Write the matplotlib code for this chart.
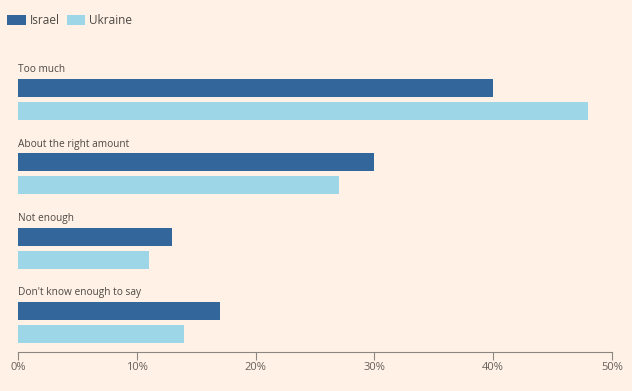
import numpy as np
import matplotlib.pyplot as plt

categories = ['Too much', 'About the right amount', 'Not enough', "Don't know enough to say"]
israel = [40, 30, 13, 17]
ukraine = [48, 27, 11, 14]
ticks = [0, 10, 20, 30, 40, 50]

bg = '#fff1e5'
c_isr = '#33669a'
c_ukr = '#9dd6e7'
txt = '#4d4845'

plt.rcParams['font.family'] = ['Open Sans', 'DejaVu Sans']

fig = plt.figure(figsize=(6.32, 3.91), dpi=100, facecolor=bg)
# axes in pixel-ish layout: x 18..612, y 60..352
ax = fig.add_axes([18 / 632, 1 - 352 / 391, (612 - 18) / 632, (352 - 60) / 391])
ax.set_facecolor(bg)

step = 74.3
pos = np.arange(len(categories)) * step
ax.barh(88 + pos, israel, height=18, color=c_isr, label='Israel')
ax.barh(111 + pos, ukraine, height=18, color=c_ukr, label='Ukraine')
for p, name in zip(pos, categories):
    ax.text(0, 70 + p, name, fontsize=7.3, color=txt, va='center', ha='left')

ax.set_xlim(0, 50)
ax.set_ylim(352, 60)
ax.set_xticks(ticks)
ax.set_xticklabels([f'{t}%' for t in ticks], fontsize=8, color='#66605c')
ax.set_yticks([])
for s in ['top', 'right', 'left']:
    ax.spines[s].set_visible(False)
ax.spines['bottom'].set_color('#8c8580')
ax.tick_params(axis='x', length=6, color='#8c8580', pad=1)

h, l = ax.get_legend_handles_labels()
fig.legend(h, l, loc='upper left', bbox_to_anchor=(0.0, 0.983), frameon=False, ncol=2,
           handlelength=1.6, handleheight=0.9, columnspacing=0.6, handletextpad=0.3,
           fontsize=8.5, labelcolor=txt, borderaxespad=0.2)

fig.savefig('out.png', dpi=100, facecolor=bg)
